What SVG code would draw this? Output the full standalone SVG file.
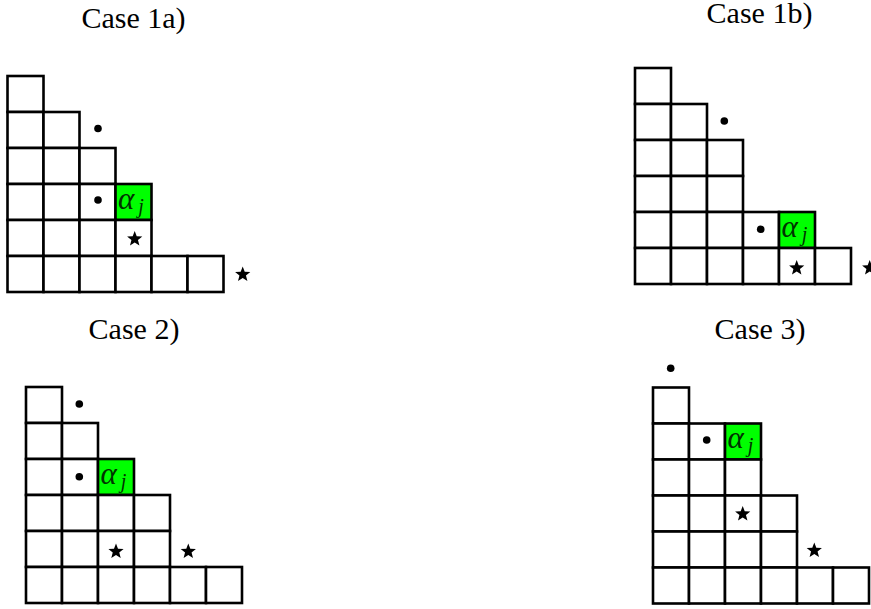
<svg xmlns="http://www.w3.org/2000/svg" width="871" height="609" viewBox="0 0 871 609">
<defs>
<style>
.c{fill:#fff;stroke:#000;stroke-width:2.6}
.g{fill:#00ff00;stroke:#000;stroke-width:2.6}
.t{font-family:"Liberation Serif","Times New Roman",serif;font-size:30px;text-anchor:middle;fill:#000}
.a{font-family:"Liberation Serif","Times New Roman",serif;font-size:31px;font-style:italic;fill:#003300}
.b{fill:#000}
</style>
<polygon id="star" points="0,-8 2.01,-2.78 7.61,-2.47 3.26,1.06 4.70,6.47 0,3.43 -4.70,6.47 -3.26,1.06 -7.61,-2.47 -2.01,-2.78"/>
</defs>
<rect width="871" height="609" fill="#fff"/>

<g id="case1a">
<text class="t" x="133.5" y="28">Case 1a)</text>
<rect class="c" x="7.5" y="76" width="36" height="36"/>
<rect class="c" x="7.5" y="112" width="36" height="36"/><rect class="c" x="43.5" y="112" width="36" height="36"/>
<rect class="c" x="7.5" y="148" width="36" height="36"/><rect class="c" x="43.5" y="148" width="36" height="36"/><rect class="c" x="79.5" y="148" width="36" height="36"/>
<rect class="c" x="7.5" y="184" width="36" height="36"/><rect class="c" x="43.5" y="184" width="36" height="36"/><rect class="c" x="79.5" y="184" width="36" height="36"/><rect class="g" x="115.5" y="184" width="36" height="36"/>
<rect class="c" x="7.5" y="220" width="36" height="36"/><rect class="c" x="43.5" y="220" width="36" height="36"/><rect class="c" x="79.5" y="220" width="36" height="36"/><rect class="c" x="115.5" y="220" width="36" height="36"/>
<rect class="c" x="7.5" y="256" width="36" height="36"/><rect class="c" x="43.5" y="256" width="36" height="36"/><rect class="c" x="79.5" y="256" width="36" height="36"/><rect class="c" x="115.5" y="256" width="36" height="36"/><rect class="c" x="151.5" y="256" width="36" height="36"/><rect class="c" x="187.5" y="256" width="36" height="36"/>
<text class="a" x="118" y="208.5">α<tspan font-size="20" dx="4" dy="4">j</tspan></text>
<circle class="b" cx="98" cy="128.5" r="3.8"/>
<circle class="b" cx="98" cy="200" r="3.8"/>
<use href="#star" x="134.7" y="239"/>
<use href="#star" x="242.7" y="274.5"/>
</g>

<g id="case1b">
<text class="t" x="759.5" y="23">Case 1b)</text>
<rect class="c" x="635" y="68" width="36" height="36"/>
<rect class="c" x="635" y="104" width="36" height="36"/><rect class="c" x="671" y="104" width="36" height="36"/>
<rect class="c" x="635" y="140" width="36" height="36"/><rect class="c" x="671" y="140" width="36" height="36"/><rect class="c" x="707" y="140" width="36" height="36"/>
<rect class="c" x="635" y="176" width="36" height="36"/><rect class="c" x="671" y="176" width="36" height="36"/><rect class="c" x="707" y="176" width="36" height="36"/>
<rect class="c" x="635" y="212" width="36" height="36"/><rect class="c" x="671" y="212" width="36" height="36"/><rect class="c" x="707" y="212" width="36" height="36"/><rect class="c" x="743" y="212" width="36" height="36"/><rect class="g" x="779" y="212" width="36" height="36"/>
<rect class="c" x="635" y="248" width="36" height="36"/><rect class="c" x="671" y="248" width="36" height="36"/><rect class="c" x="707" y="248" width="36" height="36"/><rect class="c" x="743" y="248" width="36" height="36"/><rect class="c" x="779" y="248" width="36" height="36"/><rect class="c" x="815" y="248" width="36" height="36"/>
<text class="a" x="781.5" y="236.5">α<tspan font-size="20" dx="4" dy="4">j</tspan></text>
<circle class="b" cx="724.3" cy="121" r="3.8"/>
<circle class="b" cx="760.7" cy="229.3" r="3.8"/>
<use href="#star" x="796.7" y="268"/>
<use href="#star" x="869.7" y="268"/>
</g>

<g id="case2">
<text class="t" x="134" y="338.5">Case 2)</text>
<rect class="c" x="26" y="387" width="36" height="36"/>
<rect class="c" x="26" y="423" width="36" height="36"/><rect class="c" x="62" y="423" width="36" height="36"/>
<rect class="c" x="26" y="459" width="36" height="36"/><rect class="c" x="62" y="459" width="36" height="36"/><rect class="g" x="98" y="459" width="36" height="36"/>
<rect class="c" x="26" y="495" width="36" height="36"/><rect class="c" x="62" y="495" width="36" height="36"/><rect class="c" x="98" y="495" width="36" height="36"/><rect class="c" x="134" y="495" width="36" height="36"/>
<rect class="c" x="26" y="531" width="36" height="36"/><rect class="c" x="62" y="531" width="36" height="36"/><rect class="c" x="98" y="531" width="36" height="36"/><rect class="c" x="134" y="531" width="36" height="36"/>
<rect class="c" x="26" y="567" width="36" height="36"/><rect class="c" x="62" y="567" width="36" height="36"/><rect class="c" x="98" y="567" width="36" height="36"/><rect class="c" x="134" y="567" width="36" height="36"/><rect class="c" x="170" y="567" width="36" height="36"/><rect class="c" x="206" y="567" width="36" height="36"/>
<text class="a" x="100.5" y="483.5">α<tspan font-size="20" dx="4" dy="4">j</tspan></text>
<circle class="b" cx="79.3" cy="404" r="3.8"/>
<circle class="b" cx="79.3" cy="476.7" r="3.8"/>
<use href="#star" x="116" y="551.5"/>
<use href="#star" x="188.3" y="551.5"/>
</g>

<g id="case3">
<text class="t" x="760" y="339">Case 3)</text>
<rect class="c" x="653" y="387.5" width="36" height="36"/>
<rect class="c" x="653" y="423.5" width="36" height="36"/><rect class="c" x="689" y="423.5" width="36" height="36"/><rect class="g" x="725" y="423.5" width="36" height="36"/>
<rect class="c" x="653" y="459.5" width="36" height="36"/><rect class="c" x="689" y="459.5" width="36" height="36"/><rect class="c" x="725" y="459.5" width="36" height="36"/>
<rect class="c" x="653" y="495.5" width="36" height="36"/><rect class="c" x="689" y="495.5" width="36" height="36"/><rect class="c" x="725" y="495.5" width="36" height="36"/><rect class="c" x="761" y="495.5" width="36" height="36"/>
<rect class="c" x="653" y="531.5" width="36" height="36"/><rect class="c" x="689" y="531.5" width="36" height="36"/><rect class="c" x="725" y="531.5" width="36" height="36"/><rect class="c" x="761" y="531.5" width="36" height="36"/>
<rect class="c" x="653" y="567.5" width="36" height="36"/><rect class="c" x="689" y="567.5" width="36" height="36"/><rect class="c" x="725" y="567.5" width="36" height="36"/><rect class="c" x="761" y="567.5" width="36" height="36"/><rect class="c" x="797" y="567.5" width="36" height="36"/><rect class="c" x="833" y="567.5" width="36" height="36"/>
<text class="a" x="727.5" y="448">α<tspan font-size="20" dx="4" dy="4">j</tspan></text>
<circle class="b" cx="670.7" cy="368.3" r="3.8"/>
<circle class="b" cx="706.7" cy="440" r="3.8"/>
<use href="#star" x="742.7" y="514"/>
<use href="#star" x="814.3" y="550.5"/>
</g>
</svg>
